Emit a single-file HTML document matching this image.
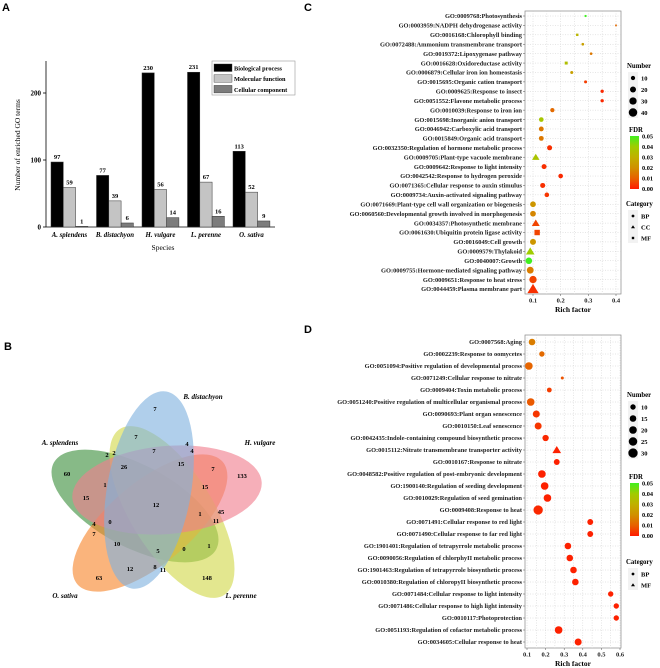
<!DOCTYPE html>
<html><head><meta charset="utf-8">
<style>
html,body{margin:0;padding:0;background:#fff;}
svg{display:block;}
text{font-family:"Liberation Serif",serif;}
.pl{font-family:"Liberation Sans",sans-serif;font-weight:bold;font-size:11px;}
.go{font-size:6.4px;font-weight:bold;fill:#222;}
.tk{font-size:6.5px;font-weight:bold;fill:#222;}
</style></head>
<body>
<svg id="fig" width="660" height="668" viewBox="0 0 660 668" xmlns="http://www.w3.org/2000/svg">
<text class="pl" x="2" y="11">A</text>
<text class="pl" x="4" y="350">B</text>
<text class="pl" x="304" y="11">C</text>
<text class="pl" x="304" y="333">D</text>
<g id="pa"></g>
<g id="pb"></g>
<g id="pc"></g>
<g id="pd"></g>
</svg>
<script>
// ---------- Panel A data ----------
const speciesA = ["A. splendens","B. distachyon","H. vulgare","L. perenne","O. sativa"];
const bpValues = [97,77,230,231,113];
const mfValues = [59,39,56,67,52];
const ccValues = [1,6,14,16,9];
const yTicksA = [0,100,200];

// ---------- Panel C data ----------
const termsC = ["GO:0009768:Photosynthesis","GO:0003959:NADPH dehydrogenase activity","GO:0016168:Chlorophyll binding","GO:0072488:Ammonium transmembrane transport","GO:0019372:Lipoxygenase pathway","GO:0016628:Oxidoreductase activity","GO:0006879:Cellular iron ion homeostasis","GO:0015695:Organic cation transport","GO:0009625:Response to insect","GO:0051552:Flavone metabolic process","GO:0010039:Response to iron ion","GO:0015698:Inorganic anion transport","GO:0046942:Carboxylic acid transport","GO:0015849:Organic acid transport","GO:0032350:Regulation of hormone metabolic process","GO:0009705:Plant-type vacuole membrane","GO:0009642:Response to light intensity","GO:0042542:Response to hydrogen peroxide","GO:0071365:Cellular response to auxin stimulus","GO:0009734:Auxin-activated signaling pathway","GO:0071669:Plant-type cell wall organization or biogenesis","GO:0060560:Developmental growth involved in morphogenesis","GO:0034357:Photosynthetic membrane","GO:0061630:Ubiquitin protein ligase activity","GO:0016049:Cell growth","GO:0009579:Thylakoid","GO:0040007:Growth","GO:0009755:Hormone-mediated signaling pathway","GO:0009651:Response to heat stress","GO:0044459:Plasma membrane part"];
const richC = [0.29,0.40,0.26,0.28,0.31,0.22,0.24,0.29,0.35,0.35,0.17,0.13,0.13,0.13,0.16,0.11,0.14,0.20,0.135,0.15,0.10,0.10,0.11,0.115,0.10,0.09,0.085,0.09,0.10,0.10];
const fdrC = [0.05,0.012,0.032,0.025,0.015,0.035,0.025,0.005,0.002,0.002,0.012,0.038,0.015,0.015,0.003,0.037,0.003,0.002,0.003,0.004,0.022,0.018,0.006,0.006,0.022,0.04,0.05,0.016,0.006,0.003];
const numC = [3,2,4,4,4,6,5,5,6,6,10,12,13,13,14,18,14,12,14,12,18,18,20,20,20,24,24,26,30,40];
const catC = ["BP","MF","MF","BP","BP","MF","BP","BP","BP","BP","BP","BP","BP","BP","BP","CC","BP","BP","BP","BP","BP","BP","CC","MF","BP","CC","BP","BP","BP","CC"];
const xTicksC = [0.1,0.2,0.3,0.4];

// ---------- Panel D data ----------
const termsD = ["GO:0007568:Aging","GO:0002239:Response to oomycetes","GO:0051094:Positive regulation of developmental process","GO:0071249:Cellular response to nitrate","GO:0009404:Toxin metabolic process","GO:0051240:Positive regulation of multicellular organismal process","GO:0090693:Plant organ senescence","GO:0010150:Leaf senescence","GO:0042435:Indole-containing compound biosynthetic process","GO:0015112:Nitrate transmembrane transporter activity","GO:0010167:Response to nitrate","GO:0048582:Positive regulation of post-embryonic development","GO:1900140:Regulation of seeding development","GO:0010029:Regulation of seed gemination","GO:0009408:Response to heat","GO:0071491:Cellular response to red light","GO:0071490:Cellular response to far red light","GO:1901401:Regulation of tetrapyrrole metabolic process","GO:0090056:Regulation of chlorphyII metabolic process","GO:1901463:Regulation of tetrapyrrole biosynthetic process","GO:0010380:Regulation of chloropyII biosynthetic process","GO:0071484:Cellular response to light intensity","GO:0071486:Cellular response to high light intensity","GO:0010117:Photoprotection","GO:0051193:Regulation of cofactor metabolic process","GO:0034605:Cellular response to heat"];
const richD = [0.127,0.18,0.11,0.29,0.22,0.12,0.15,0.16,0.20,0.26,0.26,0.18,0.195,0.21,0.16,0.44,0.44,0.32,0.33,0.35,0.36,0.55,0.58,0.58,0.27,0.375];
const fdrD = [0.016,0.012,0.011,0.008,0.005,0.009,0.004,0.004,0.002,0.001,0.001,0.001,0.001,0.001,0.002,0.001,0.001,0.001,0.001,0.001,0.001,0.001,0.001,0.001,0.001,0.001];
const numD = [15,10,20,3,8,20,17,17,14,15,12,20,20,20,30,12,12,15,15,15,15,10,10,10,20,17];
const catD = ["BP","BP","BP","BP","BP","BP","BP","BP","BP","MF","BP","BP","BP","BP","BP","BP","BP","BP","BP","BP","BP","BP","BP","BP","BP","BP"];
const xTicksD = [0.1,0.2,0.3,0.4,0.5,0.6];

// ---------- Venn data ----------
const vennCounts = [7,7,2,2,4,4,7,26,15,7,133,60,1,15,15,12,1,45,11,4,0,7,10,5,0,1,12,8,11,63,148];

const NS="http://www.w3.org/2000/svg";
function mk(parent,tag,attrs,txt){const e=document.createElementNS(NS,tag);for(const k in attrs)e.setAttribute(k,attrs[k]);if(txt!==undefined)e.textContent=txt;parent.appendChild(e);return e;}

// ===== Panel A =====
(function(){
const g=document.getElementById('pa');
const y0=227, k=0.67, axL=46, axR=275;
const yA=v=>y0-v*k;
const gx=[51,96.5,142,187.5,233], bw=12.3;
let ax=mk(g,'line',{x1:axL,y1:61,x2:axL,y2:y0,stroke:'#000','stroke-width':0.8});

let bx=mk(g,'line',{x1:axL,y1:y0,x2:axR,y2:y0,stroke:'#000','stroke-width':0.8});

yTicksA.forEach(t=>{
 mk(g,'line',{x1:axL-3,y1:yA(t),x2:axL,y2:yA(t),stroke:'#000','stroke-width':0.8});
 const tt=mk(g,'text',{x:axL-5,y:yA(t)+2.5,'text-anchor':'end','font-size':7,'font-weight':'bold'},t);
 
});
const series=[[bpValues,'#000'],[mfValues,'#c4c4c4'],[ccValues,'#7c7c7c']];
speciesA.forEach((s,i)=>{
 series.forEach((se,j)=>{
  const v=se[0][i], x=gx[i]+j*bw;
  const r=mk(g,'rect',{x:x,y:yA(v),width:bw,height:v*k,fill:se[1],stroke:'#333','stroke-width':0.5});
  
  const t=mk(g,'text',{x:x+bw/2,y:yA(v)-3,'text-anchor':'middle','font-size':6.5,'font-weight':'bold'},v);
  
 });
 const lt=mk(g,'text',{x:gx[i]+bw*1.5,y:237,'text-anchor':'middle','font-size':6.8,'font-weight':'bold','font-style':'italic'},s);
 
});
const yt=mk(g,'text',{x:0,y:0,transform:'translate(20,145) rotate(-90)','text-anchor':'middle','font-size':7.5},'Number of enriched GO terms');

const xt=mk(g,'text',{x:163,y:250,'text-anchor':'middle','font-size':7.5},'Species');

const lg=mk(g,'g',{});
mk(lg,'rect',{x:212,y:61,width:83,height:34,fill:'#fff',stroke:'#999','stroke-width':0.6});
['Biological process','Molecular function','Cellular component'].forEach((n,j)=>{
 mk(lg,'rect',{x:214,y:64+j*10.7,width:18,height:7.5,fill:series[j][1],stroke:'#333','stroke-width':0.4});
 const t=mk(lg,'text',{x:234,y:70.5+j*10.7,'font-size':6.3,'font-weight':'bold'},n);
 
});
})();

// ===== Panel B (Venn) =====
(function(){
const g=document.getElementById('pb');
const ell=[
 ['venn-a-splendens','#3d8f3d',135,506,92,41,28],
 ['venn-o-sativa','#f7862c',150,523,95,41,-40],
 ['venn-l-perenne','#d2d84a',172,512,41,98,-32],
 ['venn-h-vulgare','#f07e8e',167,490,95,44,-5],
 ['venn-b-distachyon','#7fb2df',149,490,42,100,10]];
ell.forEach(e=>{
 const el=mk(g,'ellipse',{cx:0,cy:0,rx:e[4],ry:e[5],fill:e[1],'fill-opacity':0.62,transform:`translate(${e[2]},${e[3]}) rotate(${e[6]})`});
 
});
const pos=[[155,409],[136,437],[107,455],[114,453],[187,444],[192,451],[154,451],[124,467],[181,464],[213,469],[242,476],[67,474],[105,485],[205,487],[86,498],[156,505],[200,514],[221,512],[216,521],[94,524],[110,522],[94,534],[117,544],[158,551],[184,549],[209,546],[130,569],[155,567],[163,570],[99,578],[207,578]];
vennCounts.forEach((c,i)=>{
 const t=mk(g,'text',{x:pos[i][0],y:pos[i][1]+2,'text-anchor':'middle','font-size':6.5,'font-weight':'bold'},c);
 
});
[['B. distachyon',203,399],['H. vulgare',260,445],['A. splendens',60,445],['O. sativa',65,598],['L. perenne',241,598]].forEach(l=>{
 const t=mk(g,'text',{x:l[1],y:l[2],'text-anchor':'middle','font-size':7,'font-weight':'bold','font-style':'italic'},l[0]);
 
});
})();

// ===== Bubble chart helper =====
const stops=[[0,[255,26,0]],[0.01,[232,96,0]],[0.02,[208,144,0]],[0.03,[192,176,0]],[0.04,[160,204,0]],[0.05,[64,240,32]]];
function fdrColor(f){
 for(let i=0;i<stops.length-1;i++){const a=stops[i],b=stops[i+1];if(f<=b[0]){const t=(f-a[0])/(b[0]-a[0]);const c=a[1].map((v,j)=>Math.round(v+(b[1][j]-v)*t));return `rgb(${c})`;}}
 return 'rgb(64,240,32)';
}
function bubble(gid,cfg){
 const g=document.getElementById(gid);
 const {terms,rich,fdr,num,cat,ticks,x0,x1,y0,y1,bl,br,bt,bb,rs,legN,legNy,fdrY,catY,cats,name}=cfg;
 const xS=v=>x0+(v-ticks[0])/(ticks[ticks.length-1]-ticks[0])*(x1-x0);
 const n=terms.length;const yS=i=>y0+i*(y1-y0)/(n-1);
 const box=mk(g,'rect',{x:bl,y:bt,width:br-bl,height:bb-bt,fill:'#fff',stroke:'#888','stroke-width':0.7});
 
 const gridX=[];for(let i=0;i<ticks.length;i++){gridX.push(ticks[i]);if(i<ticks.length-1)gridX.push((ticks[i]+ticks[i+1])/2);}
 gridX.forEach(v=>mk(g,'line',{x1:xS(v),y1:bt,x2:xS(v),y2:bb,stroke:'#ccc','stroke-width':0.5,'stroke-dasharray':'1,1.5'}));
 terms.forEach((t,i)=>{
  mk(g,'line',{x1:bl,y1:yS(i),x2:br,y2:yS(i),stroke:'#ccc','stroke-width':0.5,'stroke-dasharray':'1,1.5'});
  mk(g,'line',{x1:bl-2,y1:yS(i),x2:bl,y2:yS(i),stroke:'#555','stroke-width':0.5});
  const tx=mk(g,'text',{class:'go',x:bl-3,y:yS(i)+2.2,'text-anchor':'end'},t);
  
  const cx=xS(rich[i]),cy=yS(i),r=Math.sqrt(num[i])*rs,col=fdrColor(fdr[i]);
  let m;
  if(cat[i]==='CC'||(name==='d'&&cat[i]==='MF')){const h=r*1.2;m=mk(g,'polygon',{points:`${cx},${cy-h} ${cx-h*1.1},${cy+h*0.8} ${cx+h*1.1},${cy+h*0.8}`,fill:col});}
  else if(cat[i]==='MF'){m=mk(g,'rect',{x:cx-r*0.9,y:cy-r*0.9,width:r*1.8,height:r*1.8,fill:col});}
  else m=mk(g,'circle',{cx:cx,cy:cy,r:r,fill:col});
  
 });
 ticks.forEach(v=>{
  mk(g,'line',{x1:xS(v),y1:bb,x2:xS(v),y2:bb+2,stroke:'#555','stroke-width':0.5});
  const t=mk(g,'text',{class:'tk',x:xS(v),y:bb+8.5,'text-anchor':'middle'},v);
  
 });
 const xt=mk(g,'text',{x:(bl+br)/2,y:bb+18,'text-anchor':'middle','font-size':7.5,'font-weight':'bold'},'Rich factor');
 
 // legends
 const lx=630;
 const nt=mk(g,'text',{x:lx-3,y:legNy,'font-size':6.8,'font-weight':'bold'},'Number');
 
 mk(g,'rect',{x:lx-2,y:legNy+4,width:10,height:legN.length*11.5,fill:'#f2f2f2'});
 legN.forEach((v,j)=>{
  const yy=legNy+10+j*11.5;
  const c=mk(g,'circle',{cx:lx+3,cy:yy,r:Math.sqrt(v)*rs,fill:'#000'});
  
  mk(g,'text',{x:lx+11,y:yy+2.3,'font-size':6.5,'font-weight':'bold'},v);
 });
 const ft=mk(g,'text',{x:lx-1,y:fdrY,'font-size':6.8,'font-weight':'bold'},'FDR');
 
 const gid2='grad'+name;
 const defs=mk(g,'defs',{});const lgd=mk(defs,'linearGradient',{id:gid2,x1:0,y1:0,x2:0,y2:1});
 [[0,'#40f020'],[0.2,'#a0cc00'],[0.4,'#c0b000'],[0.6,'#d09000'],[0.8,'#e86000'],[1,'#ff1a00']].forEach(s=>mk(lgd,'stop',{offset:s[0],'stop-color':s[1]}));
 const gb=mk(g,'rect',{x:lx,y:fdrY+4,width:9,height:53,fill:`url(#${gid2})`});
 
 ['0.05','0.04','0.03','0.02','0.01','0.00'].forEach((l,j)=>mk(g,'text',{x:lx+12,y:fdrY+6.5+j*10.5,'font-size':6.3,'font-weight':'bold'},l));
 const ct=mk(g,'text',{x:lx-4,y:catY,'font-size':6.8,'font-weight':'bold'},'Category');
 
 mk(g,'rect',{x:lx-2,y:catY+4,width:10,height:cats.length*11,fill:'#f2f2f2'});
 cats.forEach((c,j)=>{
  const yy=catY+10+j*11;
  if(c[1]==='c')mk(g,'circle',{cx:lx+3,cy:yy,r:1.4,fill:'#000'});
  else if(c[1]==='t')mk(g,'polygon',{points:`${lx+3},${yy-1.8} ${lx+1},${yy+1.2} ${lx+5},${yy+1.2}`,fill:'#000'});
  else mk(g,'rect',{x:lx+1.8,y:yy-1.2,width:2.4,height:2.4,fill:'#000'});
  const t=mk(g,'text',{x:lx+11,y:yy+2.3,'font-size':6.5,'font-weight':'bold'},c[0]);
  
 });
}
bubble('pc',{terms:termsC,rich:richC,fdr:fdrC,num:numC,cat:catC,ticks:xTicksC,x0:533,x1:616,y0:16,y1:289,bl:525,br:621,bt:11,bb:294,rs:0.67,legN:[10,20,30,40],legNy:68,fdrY:132,catY:206,cats:[['BP','c'],['CC','t'],['MF','s']],name:'c'});
bubble('pd',{terms:termsD,rich:richD,fdr:fdrD,num:numD,cat:catD,ticks:xTicksD,x0:527,x1:620,y0:342,y1:642,bl:525,br:621,bt:335,bb:648,rs:0.85,legN:[10,15,20,25,30],legNy:397,fdrY:479,catY:564,cats:[['BP','c'],['MF','t']],name:'d'});
</script>
</body></html>
